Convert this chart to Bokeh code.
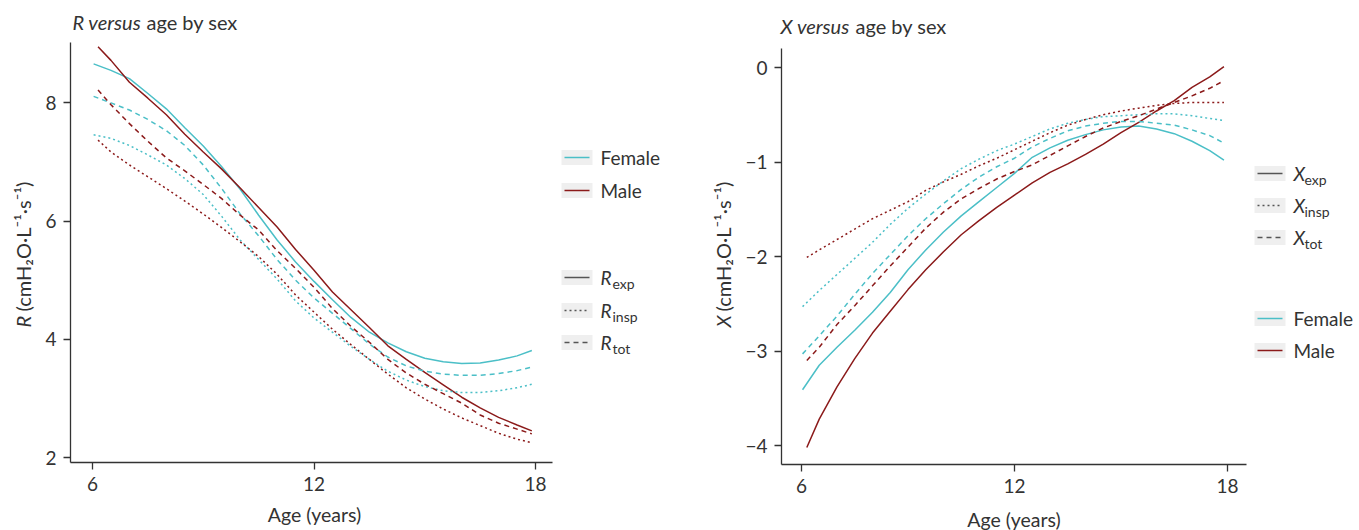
from math import pi
from bokeh.plotting import figure
from bokeh.layouts import row
from bokeh.models import Range1d, FixedTicker, Label
from bokeh.embed import file_html
from bokeh.resources import INLINE
from bokeh.core.properties import value

FONT = "Lato"
CYAN = "#4BBFC7"
RED = "#8B1A1A"
INK = "#333333"
KEY_BG = "#EFEFEF"
KEY_LINE = "#555555"

# ---------------- data ----------------
age_f = [6.03, 6.5, 7, 7.5, 8, 8.5, 9, 9.5, 10, 10.5, 11, 11.5, 12, 12.5,
         13, 13.5, 14, 14.5, 15, 15.5, 16, 16.5, 17, 17.5, 17.9]
age_m = [6.15, 6.5, 7, 7.5, 8, 8.5, 9, 9.5, 10, 10.5, 11, 11.5, 12, 12.5,
         13, 13.5, 14, 14.5, 15, 15.5, 16, 16.5, 17, 17.5, 17.9]

R_exp_f = [8.66, 8.55, 8.41, 8.16, 7.90, 7.58, 7.27, 6.92, 6.54, 6.10, 5.68, 5.31, 4.98,
           4.67, 4.37, 4.12, 3.94, 3.79, 3.68, 3.62, 3.59, 3.60, 3.65, 3.72, 3.81]
R_exp_m = [8.95, 8.72, 8.35, 8.08, 7.80, 7.47, 7.17, 6.88, 6.56, 6.23, 5.90, 5.52, 5.17,
           4.80, 4.50, 4.20, 3.89, 3.66, 3.44, 3.23, 3.02, 2.84, 2.68, 2.55, 2.45]
R_tot_f = [8.11, 8.00, 7.88, 7.72, 7.53, 7.28, 6.95, 6.55, 6.12, 5.75, 5.35, 5.00, 4.70,
           4.44, 4.18, 3.92, 3.70, 3.55, 3.46, 3.41, 3.39, 3.39, 3.42, 3.47, 3.53]
R_tot_m = [8.22, 7.97, 7.65, 7.35, 7.07, 6.85, 6.62, 6.38, 6.10, 5.85, 5.50, 5.20, 4.88,
           4.52, 4.22, 3.95, 3.66, 3.43, 3.24, 3.08, 2.92, 2.72, 2.58, 2.48, 2.40]
R_insp_f = [7.46, 7.40, 7.28, 7.12, 6.95, 6.72, 6.45, 6.08, 5.68, 5.35, 5.02, 4.65, 4.36,
            4.12, 3.88, 3.66, 3.46, 3.31, 3.20, 3.13, 3.10, 3.10, 3.13, 3.18, 3.24]
R_insp_m = [7.37, 7.17, 6.95, 6.75, 6.55, 6.34, 6.12, 5.89, 5.65, 5.40, 5.10, 4.75, 4.46,
            4.17, 3.91, 3.66, 3.41, 3.18, 2.99, 2.82, 2.67, 2.54, 2.41, 2.31, 2.25]

X_exp_f = [-3.41, -3.15, -2.96, -2.78, -2.59, -2.38, -2.14, -1.93, -1.74, -1.57, -1.42, -1.27,
           -1.12, -0.95, -0.85, -0.77, -0.71, -0.66, -0.63, -0.62, -0.65, -0.70, -0.78, -0.88, -0.98]
X_exp_m = [-4.02, -3.72, -3.38, -3.08, -2.81, -2.58, -2.35, -2.14, -1.95, -1.77, -1.62, -1.48,
           -1.35, -1.22, -1.11, -1.02, -0.92, -0.81, -0.69, -0.58, -0.46, -0.35, -0.21, -0.10, 0.01]
X_tot_f = [-3.03, -2.84, -2.63, -2.40, -2.18, -1.98, -1.78, -1.60, -1.44, -1.29, -1.16, -1.05,
           -0.96, -0.84, -0.75, -0.67, -0.62, -0.59, -0.57, -0.57, -0.59, -0.61, -0.66, -0.72, -0.80]
X_tot_m = [-3.10, -2.96, -2.72, -2.52, -2.31, -2.10, -1.90, -1.70, -1.53, -1.39, -1.28, -1.18,
           -1.10, -1.03, -0.93, -0.83, -0.73, -0.64, -0.57, -0.51, -0.44, -0.37, -0.30, -0.22, -0.14]
X_insp_f = [-2.53, -2.36, -2.19, -2.02, -1.85, -1.66, -1.49, -1.34, -1.20, -1.07, -0.97, -0.88,
            -0.81, -0.73, -0.65, -0.59, -0.55, -0.52, -0.51, -0.50, -0.49, -0.49, -0.51, -0.54, -0.56]
X_insp_m = [-2.01, -1.93, -1.82, -1.71, -1.60, -1.51, -1.42, -1.30, -1.21, -1.13, -1.04, -0.96,
            -0.87, -0.78, -0.69, -0.61, -0.55, -0.50, -0.46, -0.43, -0.40, -0.38, -0.37, -0.37, -0.37]

x_ticks = [6, 12, 18]
R_ticks = [2, 4, 6, 8]
X_ticks = [-4, -3, -2, -1, 0]
X_tick_labels = {-4: "\u22124", -3: "\u22123", -2: "\u22122", -1: "\u22121", 0: "0"}

sex_labels = ["Female", "Male"]
sex_colors = [CYAN, RED]
comp_subs = ["exp", "insp", "tot"]
comp_dash = {"exp": "solid", "insp": "2 3", "tot": "5 4"}
unit_text = "(cmH\u2082O\u00b7L\u207b\u00b9\u00b7s\u207b\u00b9)"

# axis extents (data units) of each panel
R_age_bounds = (5.404, 18.46)
R_val_bounds = (1.915, 9.017)
X_age_bounds = (5.437, 18.535)
X_val_bounds = (-4.201, 0.201)


def style_axes(p, xb, yb):
    p.grid.visible = False
    p.outline_line_color = None
    xa, ya = p.xaxis[0], p.yaxis[0]
    xa.fixed_location = yb[0]
    xa.bounds = xb
    ya.fixed_location = xb[0]
    ya.bounds = yb
    for ax in (xa, ya):
        ax.axis_line_color = INK
        ax.axis_line_width = 1.3
        ax.major_tick_line_color = INK
        ax.major_tick_line_width = 1.3
        ax.major_tick_out = 7
        ax.major_tick_in = 0
        ax.minor_tick_line_color = None
        ax.major_label_text_font = FONT
        ax.major_label_text_font_size = "19px"
        ax.major_label_text_color = INK
        ax.major_label_standoff = 7


def label(p, x, y, text, size="18px", style="normal", align="left", angle=0.0):
    p.add_layout(Label(x=x, y=y, x_units="screen", y_units="screen", text=text,
                       text_font=FONT, text_font_size=size, text_font_style=style,
                       text_color=INK, text_align=align, text_baseline="alphabetic",
                       angle=angle))


def panel(width, xr, yr, xb, yb, ticks_y, series, sym, title_pos, ylab_pos, xlab_pos,
          overrides=None):
    p = figure(width=width, height=530, x_range=Range1d(*xr), y_range=Range1d(*yr),
               output_backend="svg", toolbar_location=None, min_border=0)
    style_axes(p, xb, yb)
    p.xaxis.ticker = FixedTicker(ticks=x_ticks)
    p.yaxis.ticker = FixedTicker(ticks=ticks_y)
    if overrides:
        p.yaxis.major_label_overrides = overrides
    for comp, yf, ym in series:
        p.line(age_f, yf, line_color=CYAN, line_width=1.5, line_dash=comp_dash[comp])
        p.line(age_m, ym, line_color=RED, line_width=1.5, line_dash=comp_dash[comp])
    tx, ty, tx2 = title_pos
    label(p, tx, ty, sym + " versus", "20px", "italic")
    label(p, tx2, ty, "age by sex", "20px")
    yx, yy, yy2 = ylab_pos
    label(p, yx, yy, sym, "20px", "italic", angle=pi / 2)
    label(p, yx, yy2, unit_text, "20px", angle=pi / 2)
    label(p, xlab_pos[0], xlab_pos[1], "Age (years)", "19.5px", align="center")
    return p


def legend_fig(width, items, box_x0, text_x, sub_x):
    p = figure(width=width, height=530, x_range=Range1d(0, width), y_range=Range1d(530, 0),
               output_backend="svg", toolbar_location=None, min_border=0,
               x_axis_location=None, y_axis_location=None)
    p.grid.visible = False
    p.outline_line_color = None
    for cy, color, dash, main, sub in items:
        p.rect(x=[box_x0 + 15.5], y=[cy], width=31, height=15, fill_color=KEY_BG, line_color=None)
        p.segment(x0=[box_x0 + 3], y0=[cy], x1=[box_x0 + 28], y1=[cy], line_color=color,
                  line_width=1.5, line_dash=dash)
        if sub:
            p.text(x=[text_x], y=[cy], text=[main], text_font=value(FONT), text_font_size="19px",
                   text_font_style="italic", text_color=INK, text_baseline="middle")
            p.text(x=[sub_x], y=[cy + 6], text=[sub], text_font=value(FONT),
                   text_font_size="14px", text_color=INK, text_baseline="middle")
        else:
            p.text(x=[text_x], y=[cy], text=[main], text_font=value(FONT), text_font_size="19px",
                   text_color=INK, text_baseline="middle")
    return p


# left panel: canvas 0..560; 36.92 px per year (age 6 at x=92), 59.1 px per unit (2 at y=457)
pR = panel(560, (3.508, 18.676), (0.765, 9.733), R_age_bounds, R_val_bounds, R_ticks,
           [("exp", R_exp_f, R_exp_m), ("insp", R_insp_f, R_insp_m), ("tot", R_tot_f, R_tot_m)],
           "R", (72, 509, 146), (22, 203, 219), (314, 16))

# right panel: canvas 680..1250; 35.5 px per year (age 6 at x=801), 94.5 px per unit (0 at y=67)
pX = panel(570, (2.592, 18.648), (-4.899, 0.709), X_age_bounds, X_val_bounds, X_ticks,
           [("exp", X_exp_f, X_exp_m), ("insp", X_insp_f, X_insp_m), ("tot", X_tot_f, X_tot_m)],
           "X", (100, 505, 175), (42, 203, 219), (333.5, 11), X_tick_labels)

legR_items = [(157, sex_colors[0], "solid", sex_labels[0], None),
              (190, sex_colors[1], "solid", sex_labels[1], None),
              (277, KEY_LINE, comp_dash["exp"], "R", comp_subs[0]),
              (310, KEY_LINE, comp_dash["insp"], "R", comp_subs[1]),
              (342, KEY_LINE, comp_dash["tot"], "R", comp_subs[2])]
legX_items = [(173, KEY_LINE, comp_dash["exp"], "X", comp_subs[0]),
              (205, KEY_LINE, comp_dash["insp"], "X", comp_subs[1]),
              (237, KEY_LINE, comp_dash["tot"], "X", comp_subs[2]),
              (318, sex_colors[0], "solid", sex_labels[0], None),
              (350, sex_colors[1], "solid", sex_labels[1], None)]

legR = legend_fig(120, legR_items, 1, 40, 52)
legX = legend_fig(109, legX_items, 4, 43, 54)

layout = row(pR, legR, pX, legX, spacing=0)
open("out.html", "w").write(file_html(layout, INLINE))
